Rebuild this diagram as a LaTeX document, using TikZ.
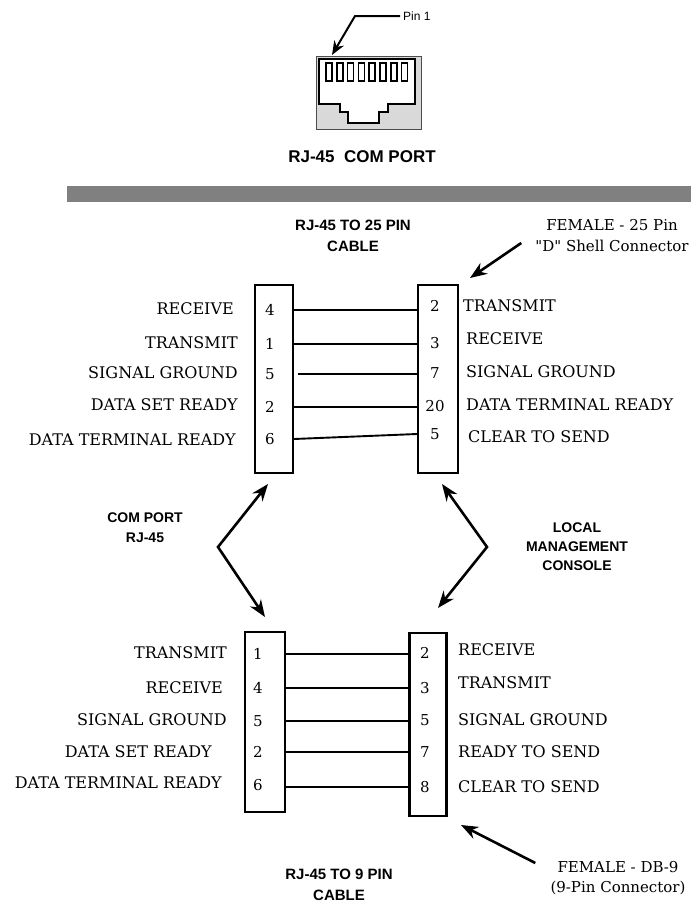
\documentclass[tikz,border=0pt]{standalone}
\usepackage{fontspec}
\setmainfont{DejaVu Serif}[Ligatures=TeXOff]
\setsansfont{Liberation Sans}
\usetikzlibrary{arrows.meta}

\definecolor{bargray}{RGB}{128,128,128}
\definecolor{jackgray}{RGB}{217,217,217}

\begin{document}
\begin{tikzpicture}[x=1pt, y=-1pt,
		lbl/.style={font=\fontsize{16}{19}\selectfont, inner sep=0pt},
		num/.style={font=\fontsize{15}{18}\selectfont, inner sep=0pt},
		hdr/.style={font=\sffamily\bfseries\fontsize{15}{21}\selectfont, align=center, inner sep=0pt},
		pinbox/.style={draw, line width=2.2pt, inner sep=0pt},
		wire/.style={line width=1.9pt},
		bigarrow/.style={line width=2.6pt, -{Stealth[length=17pt, width=13pt]}},
		twoarrow/.style={line width=2.6pt, {Stealth[length=17pt, width=13pt]}-{Stealth[length=17pt, width=13pt]}}]

		\useasboundingbox (0,0) rectangle (691,902);

		% RJ-45 jack
		\filldraw[draw=black!70, line width=0.9pt, fill=jackgray] (316,56) rectangle (421,129); % shell
		\filldraw[fill=white, line width=1.4pt] (319,59) -- (415,59) -- (415,104) -- (388,104) -- (388,112) -- (379,112) -- (379,123) -- (348,123) -- (348,112) -- (340,112) -- (340,104) -- (319,104) -- cycle; % opening
		\foreach \i in {0,...,7}
			\filldraw[fill=white, line width=1.6pt] (326+10.8*\i,63) rectangle (332+10.8*\i,81); % contacts

		\node[font=\sffamily\fontsize{12}{13}\selectfont, anchor=west, inner sep=3pt] (pinone) at (400,16) {Pin 1};
		\coordinate (pinbend) at (355,16);
		\coordinate (pintip) at (332,55);
		\draw[line width=2pt, -{Stealth[length=14pt, width=11pt]}] (pinone.west) -- (pinbend) -- (pintip);

		\node[hdr, font=\sffamily\bfseries\fontsize{17}{20}\selectfont] (jackcap) at (362,157) {RJ-45\ \ COM PORT};

		% separator bar
		\fill[bargray] (67,186) rectangle (691,202);

		% RJ-45 to 25 pin cable
		\node[hdr] (cab25) at (353,236) {RJ-45 TO 25 PIN\\CABLE};
		\node[lbl, align=center, font=\fontsize{15}{21}\selectfont] (fem25) at (612,236) {FEMALE - 25 Pin\\"D" Shell Connector};
		\coordinate (fem25tip) at (470,278);
		\draw[bigarrow] ([shift={(-14,7)}]fem25.west) -- (fem25tip);

		\node[pinbox, minimum width=38pt, minimum height=188pt] (tlbox) at (274,379) {};
		\node[pinbox, minimum width=40pt, minimum height=188pt] (trbox) at (438,379) {};

		\node[num] (tl1) at (270,310) {4};
		\node[num] (tl2) at (270,344) {1};
		\node[num] (tl3) at (270,374) {5};
		\node[num] (tl4) at (270,407) {2};
		\node[num] (tl5) at (270,439) {6};

		\node[num] (tr1) at (435,306) {2};
		\node[num] (tr2) at (435,343) {3};
		\node[num] (tr3) at (435,373) {7};
		\node[num] (tr4) at (435,406) {20};
		\node[num] (tr5) at (435,434) {5};

		\node[lbl, anchor=east] (tlsig1) at (234,309) {RECEIVE};
		\node[lbl, anchor=east] (tlsig2) at (238,343) {TRANSMIT};
		\node[lbl, anchor=east] (tlsig3) at (238,373) {SIGNAL GROUND};
		\node[lbl, anchor=east] (tlsig4) at (238,405) {DATA SET READY};
		\node[lbl, anchor=east] (tlsig5) at (236,440) {DATA TERMINAL READY};

		\node[lbl, anchor=west] (trsig1) at (463,306) {TRANSMIT};
		\node[lbl, anchor=west] (trsig2) at (466,339) {RECEIVE};
		\node[lbl, anchor=west] (trsig3) at (466,372) {SIGNAL GROUND};
		\node[lbl, anchor=west] (trsig4) at (466,405) {DATA TERMINAL READY};
		\node[lbl, anchor=west] (trsig5) at (468,437) {CLEAR TO SEND};

		\draw[wire] (tl1 -| tlbox.east) -- (tl1 -| trbox.west);
		\draw[wire] (tl2 -| tlbox.east) -- (tl2 -| trbox.west);
		\draw[wire] ([xshift=4pt]tl3 -| tlbox.east) -- (tl3 -| trbox.west);
		\draw[wire] (tl4 -| tlbox.east) -- (tl4 -| trbox.west);
		\draw[wire] (tl5 -| tlbox.east) -- (tr5 -| trbox.west);

		% connector arrows
		\coordinate (comtop) at (268,484);
		\coordinate (combend) at (218,547);
		\coordinate (combot) at (265,617);
		\draw[twoarrow] (comtop) -- (combend) -- (combot);
		\node[hdr, font=\sffamily\bfseries\fontsize{14}{20}\selectfont] (comport) at (145,528) {COM PORT\\RJ-45};

		\coordinate (lmctop) at (442,484);
		\coordinate (lmcbend) at (487,547);
		\coordinate (lmcbot) at (438,608);
		\draw[twoarrow] (lmctop) -- (lmcbend) -- (lmcbot);
		\node[hdr, font=\sffamily\bfseries\fontsize{14}{19}\selectfont] (lmc) at (577,547) {LOCAL\\MANAGEMENT\\CONSOLE};

		% RJ-45 to 9 pin cable
		\node[pinbox, minimum width=40pt, minimum height=180pt] (blbox) at (265,722) {};
		\node[pinbox, minimum width=37pt, minimum height=183pt] (brbox) at (428,724.5) {};

		\node[num] (bl1) at (258,654) {1};
		\node[num] (bl2) at (258,688) {4};
		\node[num] (bl3) at (258,721) {5};
		\node[num] (bl4) at (258,752) {2};
		\node[num] (bl5) at (258,785) {6};

		\node[num] (br1) at (425,653) {2};
		\node[num] (br2) at (425,688) {3};
		\node[num] (br3) at (425,720) {5};
		\node[num] (br4) at (425,752) {7};
		\node[num] (br5) at (425,787) {8};

		\node[lbl, anchor=east] (blsig1) at (227,653) {TRANSMIT};
		\node[lbl, anchor=east] (blsig2) at (223,688) {RECEIVE};
		\node[lbl, anchor=east] (blsig3) at (227,720) {SIGNAL GROUND};
		\node[lbl, anchor=east] (blsig4) at (212,752) {DATA SET READY};
		\node[lbl, anchor=east] (blsig5) at (222,783) {DATA TERMINAL READY};

		\node[lbl, anchor=west] (brsig1) at (458,650) {RECEIVE};
		\node[lbl, anchor=west] (brsig2) at (458,683) {TRANSMIT};
		\node[lbl, anchor=west] (brsig3) at (458,720) {SIGNAL GROUND};
		\node[lbl, anchor=west] (brsig4) at (458,752) {READY TO SEND};
		\node[lbl, anchor=west] (brsig5) at (458,787) {CLEAR TO SEND};

		\draw[wire] (bl1 -| blbox.east) -- (bl1 -| brbox.west);
		\draw[wire] (bl2 -| blbox.east) -- (bl2 -| brbox.west);
		\draw[wire] (bl3 -| blbox.east) -- (bl3 -| brbox.west);
		\draw[wire] (bl4 -| blbox.east) -- (bl4 -| brbox.west);
		\draw[wire] (br5 -| blbox.east) -- (br5 -| brbox.west);

		\node[hdr] (cab9) at (339,885) {RJ-45 TO 9 PIN\\CABLE};
		\node[lbl, align=center, font=\fontsize{15}{20}\selectfont] (femdb9) at (618,878) {FEMALE - DB-9\\(9-Pin Connector)};
		\coordinate (db9tip) at (461,825);
		\draw[bigarrow] ([shift={(-15,-15)}]femdb9.west) -- (db9tip);
\end{tikzpicture}
\end{document}
